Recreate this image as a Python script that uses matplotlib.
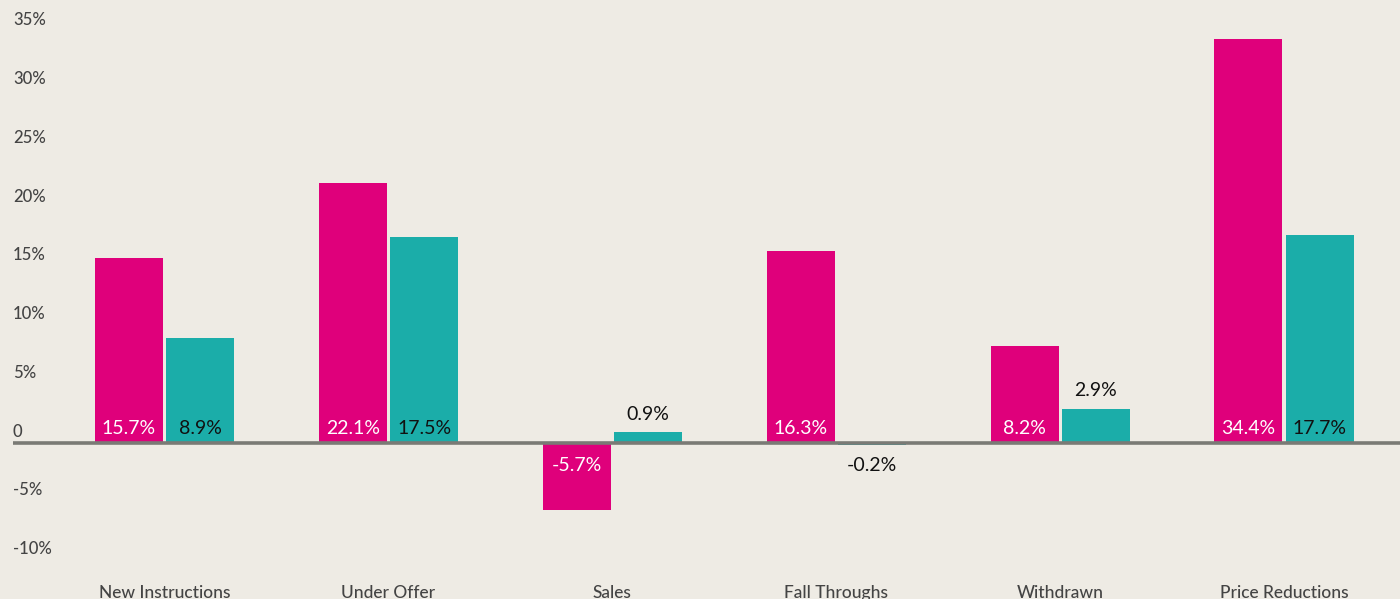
import matplotlib
matplotlib.use('Agg')
import matplotlib.pyplot as plt
from matplotlib.transforms import offset_copy

categories = ['New Instructions', 'Under Offer', 'Sales', 'Fall Throughs',
              'Withdrawn', 'Price Reductions']
pink_values = [15.7, 22.1, -5.7, 16.3, 8.2, 34.4]
teal_values = [8.9, 17.5, 0.9, -0.2, 2.9, 17.7]
y_ticks = [35, 30, 25, 20, 15, 10, 5, 0, -5, -10]
y_tick_labels = ['35%', '30%', '25%', '20%', '15%', '10%', '5%', '0', '-5%', '-10%']

BG = '#EEEBE4'
PINK = '#DF007B'
TEAL = '#1BADA9'
GREY = '#7A7A75'
TEXT = '#444444'

plt.rcParams['font.family'] = ['Lato', 'DejaVu Sans']


def main():
    fig = plt.figure(figsize=(14, 5.99), dpi=100, facecolor=BG)
    ax = fig.add_axes([0, 0, 1, 1])
    ax.set_facecolor(BG)
    ax.set_xlim(-0.735, 5.518)
    ax.set_ylim(-13.3, 37.7)
    ax.axis('off')

    x = list(range(len(categories)))
    w = 0.304
    off = 0.159
    ax.bar([i - off for i in x], pink_values, width=w, color=PINK, zorder=2)
    ax.bar([i + off for i in x], teal_values, width=w, color=TEAL, zorder=2)
    ax.plot([-0.677, 5.518], [0, 0], color=GREY, lw=2.6, zorder=3,
            solid_capstyle='butt')

    # value labels: inside the bar when it is tall enough, outside otherwise
    for vals, shift, inner in ((pink_values, -off, 'white'), (teal_values, off, '#111111')):
        for i, v in enumerate(vals):
            txt = f'{v:.1f}%'
            color = inner if abs(v) >= 4 else '#111111'
            if v >= 4:
                tr = offset_copy(ax.transData, fig=fig, y=6.5, units='points')
                ax.text(i + shift, 0, txt, color=color, fontsize=14,
                        ha='center', va='baseline', transform=tr, zorder=4)
            elif v >= 0:
                tr = offset_copy(ax.transData, fig=fig, y=9, units='points')
                ax.text(i + shift, v, txt, color=color, fontsize=14,
                        ha='center', va='baseline', transform=tr, zorder=4)
            else:
                tr = offset_copy(ax.transData, fig=fig, y=-16, units='points')
                ax.text(i + shift, 0, txt, color=color, fontsize=14,
                        ha='center', va='center', transform=tr, zorder=4)

    # y tick labels sit just above their levels
    for t, lab in zip(y_ticks, y_tick_labels):
        tr = offset_copy(ax.transData, fig=fig, y=4.5, units='points')
        ax.text(-0.677, t, lab, color=TEXT, fontsize=12, fontweight='medium',
                ha='left', va='baseline', transform=tr)

    for i, c in enumerate(categories):
        ax.text(i, -12.8, c, color=TEXT, fontsize=12.5, fontweight='medium',
                ha='center', va='center')

    fig.savefig('out.png', dpi=100, facecolor=BG)


if __name__ == '__main__':
    main()
